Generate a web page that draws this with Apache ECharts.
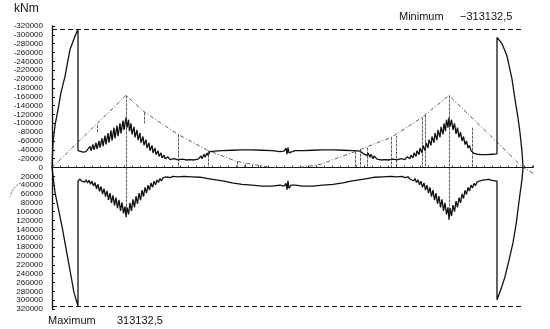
<!DOCTYPE html>
<html>
<head>
<meta charset="utf-8">
<title>Momentenumhüllende</title>
<script src="https://cdn.jsdelivr.net/npm/echarts@6/dist/echarts.min.js"></script>
<style>
  html, body { margin: 0; padding: 0; background: #fff; }
  #chart { width: 550px; height: 329px; }
</style>
</head>
<body>
<div id="chart"></div>
<script>
// x = position along the girder (units), y = moment in kNm (negative drawn upward)
const supports = [0, 74, 397, 471]
const minMoment = -313132.5
const maxMoment = 313132.5

// upper envelope (minimum moments)
const minEnvelope = [
  [0, 0], [0.5, -30000], [1, -56000], [3, -95000], [6, -131000], [9, -170000], [13, -206000], [18, -267000], [23, -297000], [26, -313132.5],
  [26, -38000], [28, -36000], [31, -35000], [34, -36000], [36, -38000],
  [38, -48000], [39, -38000], [41, -52000], [42, -40000], [44, -56000], [45, -42000], [47, -60000], [48, -45000],
  [50, -66000], [51, -48000], [53, -72000], [54, -52000], [56, -78000], [57, -56000], [59, -84000], [60, -61000],
  [62, -90000], [63, -66000], [65, -95000], [66, -71000], [68, -100000], [69, -77000], [71, -106000], [72, -85000],
  [74, -113000], [75, -90000], [76.5, -108000], [77.5, -82000], [79, -100000], [80, -75000], [82, -92000], [83, -68000],
  [85, -85000], [86, -62000], [88, -78000], [89, -56000], [91, -70000], [92, -50000], [94, -63000], [95, -44000],
  [97, -56000], [98, -38000], [100, -50000], [101, -33000], [103, -44000], [104, -29000], [106, -38000], [107, -25000],
  [109, -33000], [110, -22000], [112, -28000], [113, -20000], [116, -24000], [118, -18000], [122, -20000], [126, -17000],
  [130, -19000], [134, -17000], [138, -18000], [142, -17000], [146, -19000], [149, -26000], [150, -20000], [152, -30000],
  [153, -23000], [155, -33000], [156, -27000], [158, -36000], [160, -32000], [163, -37000], [170, -38000], [180, -39000],
  [190, -40000], [200, -40000], [210, -39000], [220, -38000], [228, -36000], [232, -37000], [234, -44000], [235, -30000],
  [236, -45000], [237, -33000], [239, -36000], [243, -38000], [251, -38000], [261, -39000], [271, -40000], [281, -40000],
  [291, -39000], [301, -38000], [308, -37000], [311, -32000], [313, -36000], [315, -27000], [316, -33000], [318, -23000],
  [319, -30000], [321, -20000], [322, -26000], [325, -19000], [329, -17000], [333, -18000], [337, -17000], [341, -19000],
  [345, -17000], [349, -20000], [353, -18000], [355, -24000], [358, -20000], [359, -28000], [361, -22000], [362, -33000],
  [364, -25000], [365, -38000], [367, -29000], [368, -44000], [370, -33000], [371, -50000], [373, -38000], [374, -56000],
  [376, -44000], [377, -63000], [379, -50000], [380, -70000], [382, -56000], [383, -78000], [385, -62000], [386, -85000],
  [388, -68000], [389, -92000], [391, -75000], [392, -100000], [393.5, -82000], [394.5, -108000], [396, -90000], [397, -113000],
  [398, -92000], [399.5, -108000], [401, -85000], [402.5, -100000], [404, -76000], [405.5, -90000], [407, -68000], [408.5, -80000],
  [410, -60000], [411.5, -70000], [413, -52000], [414.5, -60000], [416, -44000], [417.5, -50000], [419, -38000], [420.5, -42000],
  [422, -32000], [425, -30000], [430, -29000], [435, -29000], [440, -30000], [445, -31000],
  [445, -294000], [450, -280000], [455, -252000], [460, -200000], [463, -154000], [466, -112000], [468, -79000], [470, -36000], [471, 0]
]

// lower envelope (maximum moments)
const maxEnvelope = [
  [0, 0], [3, 56000], [10, 133000], [16, 208000], [22, 283000], [26, 313132.5],
  [26, 31000], [28, 26000], [29.5, 31000], [31, 27000], [32.5, 33000], [34, 28000], [35.5, 35000], [37, 29000],
  [38.5, 38000], [40, 31000], [41.5, 42000], [43, 34000], [44.5, 48000], [46, 38000], [47.5, 54000], [49, 43000],
  [50.5, 60000], [52, 48000], [53.5, 66000], [55, 53000], [56.5, 73000], [58, 58000], [59.5, 80000], [61, 63000],
  [62.5, 86000], [64, 68000], [65.5, 92000], [67, 73000], [68.5, 98000], [70, 79000], [71.5, 104000], [73, 88000],
  [74, 112000], [75, 90000], [76.5, 106000], [78, 80000], [79.5, 98000], [81, 72000], [82.5, 90000], [84, 65000],
  [85.5, 82000], [87, 58000], [88.5, 74000], [90, 51000], [91.5, 66000], [93, 45000], [94.5, 58000], [96, 40000],
  [97.5, 51000], [99, 35000], [100.5, 45000], [102, 31000], [103.5, 39000], [105, 28000], [106.5, 34000], [108, 25000],
  [109.5, 30000], [111, 23000], [113, 26000], [115, 21000], [118, 23000], [121, 20000], [126, 21000], [132, 20000],
  [140, 21000], [148, 22000], [156, 25000], [164, 28000], [172, 31000], [180, 35000], [190, 38000], [200, 40000],
  [210, 42000], [220, 42000], [228, 40000], [232, 42000], [234, 36000], [235, 50000], [236, 30000], [237, 47000],
  [239, 40000], [243, 40000], [251, 42000], [261, 42000], [271, 40000], [281, 38000], [291, 35000], [299, 31000],
  [307, 28000], [315, 25000], [323, 22000], [331, 21000], [339, 20000], [345, 21000], [350, 20000], [353, 23000],
  [356, 21000], [358, 26000], [360, 23000], [361.5, 30000], [363, 25000], [364.5, 34000], [366, 28000], [367.5, 39000],
  [369, 31000], [370.5, 45000], [372, 35000], [373.5, 51000], [375, 40000], [376.5, 58000], [378, 45000], [379.5, 66000],
  [381, 51000], [382.5, 74000], [384, 58000], [385.5, 82000], [387, 65000], [388.5, 90000], [390, 72000], [391.5, 98000],
  [393, 80000], [394.5, 106000], [396, 90000], [397, 118000],
  [398, 92000], [399.5, 110000], [401, 85000], [402.5, 100000], [404, 76000], [405.5, 90000], [407, 68000], [408.5, 80000],
  [410, 60000], [411.5, 70000], [413, 52000], [414.5, 61000], [416, 45000], [417.5, 53000], [419, 40000], [420.5, 46000],
  [422, 36000], [423.5, 41000], [425, 33000], [426.5, 37000], [428, 30000], [430, 33000], [432, 28000], [434, 31000],
  [437, 27000], [440, 29000], [445, 31000],
  [445, 299000], [449, 275000], [453, 247000], [457, 210000], [461, 170000], [464, 130000], [466, 95000], [468, 60000], [470, 27000], [471, 0]
]

// thin dash-dot line over the supports
const refLine = [
  [0, 0], [74, -163000], [93, -124600], [126, -74800], [156, -38500], [185, -13600], [218, 0],
  [248, 0], [268, -6800], [303, -36000], [339, -68000], [370, -113000], [397, -163000], [471, 0], [498, 34000]
]

// thin vertical marks: [x, from, to]
const verticals = [
  [45, -80000, -96000], [74, -163000, 113000], [92, -124000, -100000], [126, -74800, 0], [156, -38500, 0],
  [185, -13600, 0], [193, -8000, 0], [200, -5000, 0], [206, -3500, 0], [212, -2000, 0],
  [303, -36000, 0], [308, -40000, 0], [315, -45000, 0], [339, -68000, 0], [344, -72000, 0],
  [370, -113000, 0], [373, -118000, 0], [397, -163000, 118000], [420, -90000, 0]
]

const yTicks = { min: -320000, max: 320000, step: 20000 }

const ink = '#111'
const chart = echarts.init(document.getElementById('chart'))

const option = {
  animation: false,
  backgroundColor: '#fff',
  textStyle: { fontFamily: 'Liberation Sans, Arial, sans-serif' },
  grid: { left: 52, right: 17, top: 26, bottom: 20 },
  xAxis: {
    type: 'value',
    min: 0,
    max: 481,
    interval: 8,
    axisLine: { onZero: true, lineStyle: { color: ink, width: 1 } },
    axisTick: { show: true, inside: true, length: 2, lineStyle: { color: ink, width: 0.8 } },
    axisLabel: { show: false },
    splitLine: { show: false }
  },
  yAxis: {
    type: 'value',
    inverse: true,
    min: yTicks.min,
    max: yTicks.max,
    interval: yTicks.step,
    axisLine: { show: true, onZero: false, lineStyle: { color: ink, width: 1.3 } },
    axisTick: { show: true, inside: true, length: 3, lineStyle: { color: ink } },
    axisLabel: {
      color: ink,
      fontSize: 8,
      margin: 9,
      formatter: (v) => String(v)
    },
    splitLine: { show: false }
  },
  series: [
    {
      name: 'min',
      type: 'line',
      data: minEnvelope,
      showSymbol: false,
      lineStyle: { color: ink, width: 1.3 }
    },
    {
      name: 'max',
      type: 'line',
      data: maxEnvelope,
      showSymbol: false,
      lineStyle: { color: ink, width: 1.3 }
    },
    {
      name: 'ref',
      type: 'line',
      data: refLine,
      clip: false,
      showSymbol: false,
      lineStyle: { color: '#333', width: 0.8, type: [4, 2, 1, 2] },
      markLine: {
        silent: true,
        symbol: 'none',
        label: { show: false },
        data: verticals.map(v => [
          { coord: [v[0], v[1]], lineStyle: { color: '#333', width: 0.8, type: [3, 1] } },
          { coord: [v[0], v[2]] }
        ]).concat([
          [{ coord: [supports[0], minMoment], lineStyle: { color: ink, width: 1.2, type: [5, 3] } }, { coord: [supports[3], minMoment] }],
          [{ coord: [supports[0], maxMoment], lineStyle: { color: ink, width: 1.2, type: [5, 3] } }, { coord: [supports[3], maxMoment] }]
        ])
      }
    }
  ],
  graphic: [
    { type: 'text', left: 14, top: 3, style: { text: 'kNm', font: '12px Liberation Sans', fill: ink } },
    { type: 'text', left: 399, top: 11, style: { text: 'Minimum', font: '11px Liberation Sans', fill: ink } },
    { type: 'text', left: 460, top: 11, style: { text: '\u2212313132,5', font: '11px Liberation Sans', fill: ink } },
    { type: 'text', left: 48, top: 315, style: { text: 'Maximum', font: '11px Liberation Sans', fill: ink } },
    { type: 'text', left: 117, top: 315, style: { text: '313132,5', font: '11px Liberation Sans', fill: ink } },
    // curved leader next to the 40000 label
    {
      type: 'bezierCurve',
      shape: { x1: 21, y1: 183, x2: 10, y2: 197, cpx1: 13, cpy1: 186 },
      style: { stroke: '#333', lineWidth: 0.8, lineDash: [2, 1.5], fill: null }
    }
  ]
}

chart.setOption(option)
</script>
</body>
</html>
